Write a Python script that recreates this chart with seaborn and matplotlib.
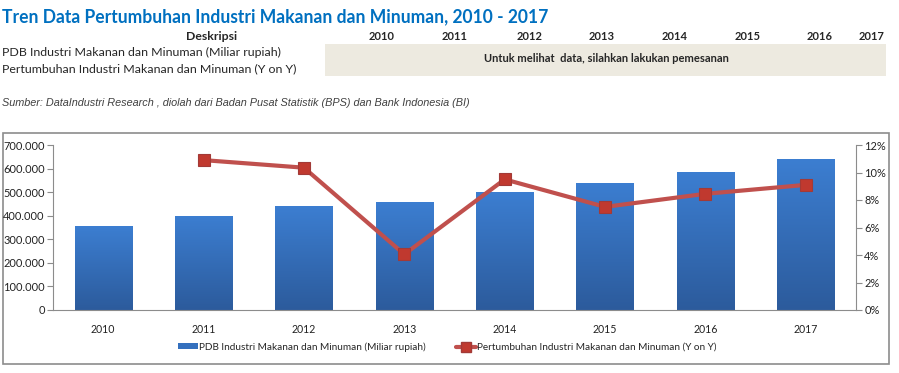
import numpy as np
import pandas as pd
import matplotlib
matplotlib.use("Agg")
import matplotlib.pyplot as plt
from matplotlib.ticker import FuncFormatter, MultipleLocator
from matplotlib.patches import Rectangle, Patch
from matplotlib.lines import Line2D
from matplotlib.colors import LinearSegmentedColormap
import seaborn as sns

years = ["2010", "2011", "2012", "2013", "2014", "2015", "2016", "2017"]
pdb_values = [356000, 399000, 441000, 458000, 500000, 539000, 585000, 639000]
growth_pct = [np.nan, 10.9, 10.35, 4.05, 9.5, 7.5, 8.45, 9.1]
bar_label = "PDB Industri Makanan dan Minuman (Miliar rupiah)"
line_label = "Pertumbuhan Industri Makanan dan Minuman (Y on Y)"
title = "Tren Data Pertumbuhan Industri Makanan dan Minuman, 2010 - 2017"
source = "Sumber: DataIndustri Research , diolah dari Badan Pusat Statistik (BPS) dan Bank Indonesia (BI)"
notice = "Untuk melihat  data, silahkan lakukan pemesanan"

sns.set_theme(style="white")
plt.rcParams['font.family'] = ['Lato', 'DejaVu Sans']

df = pd.DataFrame({"year": years, "pdb": pdb_values, "growth": growth_pct})

fig = plt.figure(figsize=(8.99, 3.73), dpi=100)

# Title and table header area
fig.text(2/899, 1-17/373, title, fontsize=12.65, fontweight="bold", color="#0070C0",
         va="center", ha="left")
fig.text(212/899, 1-36/373, "Deskripsi", fontsize=8.8, fontweight="bold", va="center", ha="center")
year_x = [382, 455, 530, 602, 675, 748, 820, 872]
for yx, yr in zip(year_x, years):
    fig.text(yx/899, 1-36/373, yr, fontsize=8, fontweight="bold", va="center", ha="center")
fig.patches.append(Rectangle((325/899, 1-76/373), (886-325)/899, 32/373,
                             transform=fig.transFigure, facecolor="#EDEAE0",
                             edgecolor="none", zorder=-1))
fig.text(2/899, 1-52/373, bar_label, fontsize=8.9, va="center", ha="left")
fig.text(2/899, 1-69/373, line_label, fontsize=8.9, va="center", ha="left")
fig.text(606/899, 1-59/373, notice, fontsize=8, fontweight="bold", va="center", ha="center")
fig.text(2/899, 1-103/373, source, fontsize=7.85, style="italic", color="#404040",
         va="center", ha="left", family="Liberation Sans")

# Chart frame
fig.patches.append(Rectangle((2.7/899, 1-364/373), (889-2.7)/899, (364-133)/373,
                             transform=fig.transFigure, facecolor="none",
                             edgecolor="#8C8C8C", linewidth=1.2, zorder=-1))

ax = fig.add_axes([53/899, 1-310/373, (856-53)/899, (310-145)/373])
ax.set_facecolor("none")
sns.barplot(data=df, x="year", y="pdb", color="#3A78C9", width=0.57, ax=ax,
            saturation=1, zorder=2)

# gradient fill on bars
grad = np.linspace(0, 1, 256).reshape(-1, 1)
cmap = LinearSegmentedColormap.from_list("bg", ["#2C5B9C", "#3C7ED1"])
for p in ax.patches:
    x0, w, h = p.get_x(), p.get_width(), p.get_height()
    im = ax.imshow(grad, cmap=cmap, aspect="auto", origin="lower",
                   extent=[x0, x0 + w, 0, h], zorder=2.5)
    im.set_clip_path(p)
ax.set_xlim(-0.5, len(years) - 0.5)
ax.set_ylim(0, 700000)
ax.yaxis.set_major_locator(MultipleLocator(100000))
ax.yaxis.set_major_formatter(FuncFormatter(lambda v, pos: f"{int(v):,}".replace(",", ".")))
ax.set_xlabel("")
ax.set_ylabel("")
for s in ["top", "right"]:
    ax.spines[s].set_visible(False)
for s in ["left", "bottom"]:
    ax.spines[s].set_color("#8C8C8C")
    ax.spines[s].set_linewidth(0.8)
ax.tick_params(axis="y", which="major", left=True, length=4, width=0.8, color="#8C8C8C",
               labelsize=7.9, pad=2, labelcolor="#222222")
ax.tick_params(axis="x", bottom=False, labelsize=7.6, pad=4, labelcolor="#222222")

ax2 = ax.twinx()
ax2.set_position(ax.get_position())
sns.lineplot(x=np.arange(len(years)), y=df["growth"], ax=ax2, color="#C0504D",
             linewidth=3, marker="s", markersize=8, markerfacecolor="#C0392F",
             markeredgecolor="#A23A37", markeredgewidth=0.8, zorder=5)
ax2.set_ylim(0, 12)
ax2.yaxis.set_major_locator(MultipleLocator(2))
ax2.yaxis.set_major_formatter(FuncFormatter(lambda v, pos: f"{int(round(v))}%"))
ax2.set_ylabel("")
for s in ["top", "left", "bottom"]:
    ax2.spines[s].set_visible(False)
ax2.spines["right"].set_color("#8C8C8C")
ax2.spines["right"].set_linewidth(0.8)
ax2.tick_params(axis="y", right=True, length=4, width=0.8, color="#8C8C8C",
                labelsize=7.9, pad=2, labelcolor="#222222")
ax2.grid(False)
ax.grid(False)
ax.set_xlim(-0.5, len(years) - 0.5)

handles = [Patch(facecolor="#3470BE", edgecolor="none"),
           Line2D([0], [0], color="#C0504D", linewidth=3, marker="s", markersize=7,
                  markerfacecolor="#C0392F", markeredgecolor="#A23A37")]
fig.legend(handles, [bar_label, line_label], loc="center", ncol=2,
           bbox_to_anchor=(447/899, 1-347/373), frameon=False, fontsize=7.2,
           handlelength=2.0, handleheight=0.5, handletextpad=0.1, columnspacing=3.0)

fig.savefig("out.png", dpi=100)
